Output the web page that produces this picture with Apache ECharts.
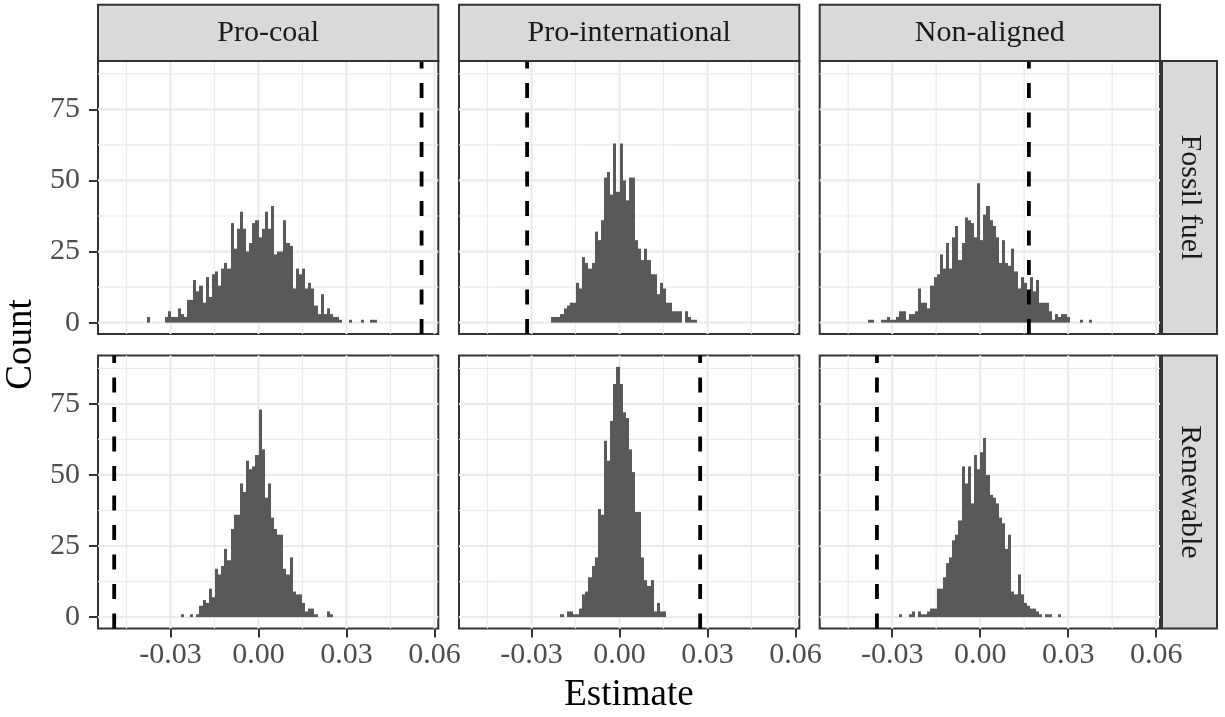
<!DOCTYPE html>
<html>
<head>
<meta charset="utf-8">
<script src="https://cdn.jsdelivr.net/npm/echarts@6/dist/echarts.min.js"></script>
<style>
  html, body { margin: 0; padding: 0; background: #ffffff; }
  #chart { width: 1225px; height: 717px; }
</style>
</head>
<body>
<div id="chart"></div>
<script>
// ---------------- data ----------------
const colCategories = ['Pro-coal', 'Pro-international', 'Non-aligned'];
const rowCategories = ['Fossil fuel', 'Renewable'];

const binWidth = 0.00106;

const xTickValues = [-0.03, 0, 0.03, 0.06];
const xMinorValues = [-0.045, -0.015, 0.015, 0.045];
const yTickValues = [0, 25, 50, 75];
const yMinorValues = [12.5, 37.5, 62.5, 87.5];

// histogram counts: first bin index (bin k covers [k*binWidth, (k+1)*binWidth))
const proCoalFossilStart = -36;
const proCoalFossilCounts = [2,0,0,0,0,0,2,4,2,2,5,3,2,8,8,15,11,13,7,16,9,17,18,13,19,21,19,35,26,33,39,33,25,28,35,36,
  30,33,39,33,41,24,25,25,36,28,27,12,19,17,19,12,14,12,6,3,10,3,5,3,2,2,1,0,0,1,0,0,0,1,0,0,1,1];
const proIntlFossilStart = -22;
const proIntlFossilCounts = [2,2,2,3,5,6,7,7,14,12,23,21,19,21,32,29,36,51,53,45,63,46,
  63,50,43,51,51,29,26,22,26,22,17,17,10,14,12,7,7,4,4,4,0,4,2,1,1];
const nonAlignedFossilStart = -36;
const nonAlignedFossilCounts = [1,1,0,0,1,1,2,1,1,2,4,4,1,3,3,4,12,7,7,5,13,16,17,24,19,28,19,30,34,22,28,37,36,35,30,49,
  29,38,41,36,34,30,21,29,21,20,26,18,12,16,14,11,16,11,15,7,7,7,4,1,3,2,3,3,2,0,0,0,1,0,0,1];
const proCoalRenewStart = -25;
const proCoalRenewCounts = [1,0,0,1,0,1,4,6,5,10,7,17,15,18,24,20,31,36,36,47,44,55,52,53,57,
  73,59,42,47,35,31,29,29,17,15,21,9,8,8,5,2,3,3,1,0,0,0,2,1];
const proIntlRenewStart = -19;
const proIntlRenewCounts = [1,0,2,2,1,1,3,8,9,14,18,21,38,36,62,55,69,82,88,
  82,72,70,59,51,37,37,21,13,11,13,2,5,2,2];
const nonAlignedRenewStart = -26;
const nonAlignedRenewCounts = [1,0,0,1,2,0,2,1,1,2,3,3,10,10,14,19,21,27,29,34,53,47,53,40,57,52,
  58,63,50,43,42,40,35,33,24,29,9,8,15,8,5,4,3,3,2,1,0,1,1,0,0,1];

// observed estimates (dashed lines)
const vlineValues = [0.0556, -0.0315, 0.0166, -0.0492, 0.0275, -0.0352];

// ---------------- layout ----------------
const FONT = 'Liberation Serif, Times New Roman, serif';
const xMin = -0.05472, xMax = 0.0613;
const yMin = -4, yMax = 92;
const colLeft = [98, 459, 819.7];
const colWidth = 340.3;
const rowTop = [61, 355.5];
const rowHeight = 273;

const panels = [
  {col: 0, row: 0, start: proCoalFossilStart, counts: proCoalFossilCounts},
  {col: 1, row: 0, start: proIntlFossilStart, counts: proIntlFossilCounts},
  {col: 2, row: 0, start: nonAlignedFossilStart, counts: nonAlignedFossilCounts},
  {col: 0, row: 1, start: proCoalRenewStart, counts: proCoalRenewCounts},
  {col: 1, row: 1, start: proIntlRenewStart, counts: proIntlRenewCounts},
  {col: 2, row: 1, start: nonAlignedRenewStart, counts: nonAlignedRenewCounts}
];

const grids = [], xAxes = [], yAxes = [], series = [];

const gridLineData = [];
xTickValues.forEach(v => gridLineData.push([v, 0, 1, 1]));
xMinorValues.forEach(v => gridLineData.push([v, 0, 1, 0]));
yTickValues.forEach(v => gridLineData.push([0, v, 0, 1]));
yMinorValues.forEach(v => gridLineData.push([0, v, 0, 0]));

panels.forEach((p, i) => {
  grids.push({
    left: colLeft[p.col], top: rowTop[p.row], width: colWidth, height: rowHeight,
    show: true, backgroundColor: '#ffffff', borderColor: '#333333', borderWidth: 2
  });
  xAxes.push({
    type: 'value', gridIndex: i, min: xMin, max: xMax,
    axisLine: {show: false, onZero: false},
    splitLine: {show: false},
    axisTick: {show: p.row === 1, length: 9, customValues: xTickValues,
      lineStyle: {color: '#333333', width: 2}},
    axisLabel: {show: p.row === 1, customValues: xTickValues,
      formatter: v => v.toFixed(2), fontFamily: FONT, fontSize: 30, color: '#4D4D4D', margin: 12}
  });
  yAxes.push({
    type: 'value', gridIndex: i, min: yMin, max: yMax,
    axisLine: {show: false, onZero: false},
    splitLine: {show: false},
    axisTick: {show: p.col === 0, length: 9, customValues: yTickValues,
      lineStyle: {color: '#333333', width: 2}},
    axisLabel: {show: p.col === 0, customValues: yTickValues,
      formatter: v => String(v), fontFamily: FONT, fontSize: 30, color: '#4D4D4D', margin: 18}
  });

  // grid lines
  series.push({
    type: 'custom', xAxisIndex: i, yAxisIndex: i, silent: true, z: 1,
    data: gridLineData,
    renderItem: (params, api) => {
      const cs = params.coordSys;
      const vert = api.value(2), major = api.value(3);
      const lw = major ? 2.2 : 1.2;
      if (vert) {
        const x = api.coord([api.value(0), 0])[0];
        return {type: 'line', shape: {x1: x, y1: cs.y, x2: x, y2: cs.y + cs.height},
          style: {stroke: '#EBEBEB', lineWidth: lw}};
      }
      const y = api.coord([0, api.value(1)])[1];
      return {type: 'line', shape: {x1: cs.x, y1: y, x2: cs.x + cs.width, y2: y},
        style: {stroke: '#EBEBEB', lineWidth: lw}};
    }
  });

  // histogram bars
  const barData = p.counts.map((c, j) => [(p.start + j) * binWidth, (p.start + j + 1) * binWidth, c]);
  series.push({
    type: 'custom', xAxisIndex: i, yAxisIndex: i, silent: true, z: 2,
    encode: {x: [0, 1], y: 2},
    data: barData,
    renderItem: (params, api) => {
      const c = api.value(2);
      if (!c) return null;
      const p0 = api.coord([api.value(0), 0]);
      const p1 = api.coord([api.value(1), c]);
      const xa = Math.round(p0[0]), xb = Math.round(p1[0]);
      return {type: 'rect',
        shape: {x: xa, y: p1[1], width: xb - xa, height: p0[1] - p1[1]},
        style: {fill: '#595959'}};
    }
  });

  // observed value (dashed)
  series.push({
    type: 'line', xAxisIndex: i, yAxisIndex: i, silent: true, z: 5,
    symbol: 'none', showSymbol: false,
    data: [[vlineValues[i], yMin], [vlineValues[i], yMax]],
    lineStyle: {color: '#000000', width: 3.8, type: [15, 14.5]}
  });
});

// strips and titles
const graphics = [];
colCategories.forEach((name, c) => {
  graphics.push({type: 'rect', shape: {x: colLeft[c], y: 4.7, width: colWidth, height: 56.3},
    style: {fill: '#D9D9D9', stroke: '#333333', lineWidth: 2}, z: 10});
  graphics.push({type: 'text', x: colLeft[c] + colWidth / 2, y: 33, z: 11,
    style: {text: name, fontFamily: FONT, fontSize: 30, fill: '#1A1A1A', align: 'center', verticalAlign: 'middle'}});
});
rowCategories.forEach((name, r) => {
  graphics.push({type: 'rect', shape: {x: 1162, y: rowTop[r], width: 55, height: rowHeight},
    style: {fill: '#D9D9D9', stroke: '#333333', lineWidth: 2}, z: 10});
  graphics.push({type: 'text', x: 1189.5, y: rowTop[r] + rowHeight / 2, rotation: -Math.PI / 2, z: 11,
    style: {text: name, fontFamily: FONT, fontSize: 30, fill: '#1A1A1A', align: 'center', verticalAlign: 'middle'}});
});
graphics.push({type: 'text', x: 629, y: 695, z: 11,
  style: {text: 'Estimate', fontFamily: FONT, fontSize: 37, fill: '#000000', align: 'center', verticalAlign: 'middle'}});
graphics.push({type: 'text', x: 21, y: 344.5, rotation: Math.PI / 2, z: 11,
  style: {text: 'Count', fontFamily: FONT, fontSize: 37, fill: '#000000', align: 'center', verticalAlign: 'middle'}});

const chart = echarts.init(document.getElementById('chart'), null, {renderer: 'canvas'});
chart.setOption({
  animation: false,
  backgroundColor: '#ffffff',
  textStyle: {fontFamily: FONT},
  grid: grids,
  xAxis: xAxes,
  yAxis: yAxes,
  series: series,
  graphic: graphics
});
</script>
</body>
</html>
